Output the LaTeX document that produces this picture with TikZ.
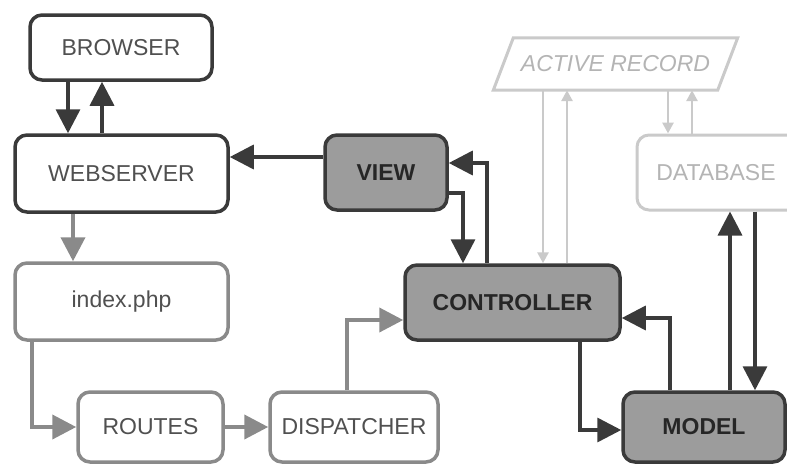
\documentclass[tikz,border=0pt]{standalone}
\usepackage{fontspec}
\setmainfont{Liberation Sans}
\usetikzlibrary{arrows.meta}

\definecolor{ink}{HTML}{3A3A3A}
\definecolor{boxfill}{HTML}{9C9C9C}
\definecolor{midgray}{HTML}{8A8A8A}
\definecolor{midtext}{HTML}{505050}
\definecolor{palegray}{HTML}{CACACA}
\definecolor{paletext}{HTML}{B4B4B4}

\tikzset{
  base/.style={rounded corners=12pt, line width=3.5pt, inner sep=0pt,
    font=\fontsize{23}{26}\selectfont, align=center},
  plainbox/.style={base, draw=ink, fill=white, text=midtext},
  darkbox/.style={base, draw=ink, fill=boxfill, text=black!85, font=\fontsize{23}{26}\selectfont\bfseries},
  graybox/.style={base, draw=midgray, fill=white, text=midtext},
  palebox/.style={base, draw=palegray, line width=3pt, fill=white, text=paletext},
  darkarrow/.style={draw=ink, line width=3.5pt, -{Triangle[length=24pt,width=24pt]}},
  grayarrow/.style={draw=midgray, line width=4pt, -{Triangle[length=24pt,width=24pt]}},
  palearrow/.style={draw=palegray, line width=2.8pt, -{Triangle[length=11pt,width=11pt]}},
}

\begin{document}
\begin{tikzpicture}[x=1pt, y=-1pt]
  \useasboundingbox (0,0) rectangle (787,464);
  \clip (0,0) rectangle (787,464);

  % boxes
  \node[plainbox, minimum width=182pt, minimum height=65pt] (browser) at (121,47.5) {BROWSER};
  \node[plainbox, minimum width=213pt, minimum height=77pt] (webserver) at (121.5,173.5) {WEBSERVER};
  \node[graybox, minimum width=213pt, minimum height=77pt] (index) at (121.5,301.5) {index.php};
  \node[graybox, minimum width=145pt, minimum height=70pt] (routes) at (150.5,427) {ROUTES};
  \node[graybox, minimum width=168pt, minimum height=70pt] (dispatcher) at (354,427) {DISPATCHER};
  \node[darkbox, minimum width=122pt, minimum height=75pt] (view) at (386,172.5) {VIEW};
  \node[darkbox, minimum width=215pt, minimum height=75pt] (controller) at (512.5,302.5) {CONTROLLER};
  \node[darkbox, minimum width=162pt, minimum height=70pt] (model) at (704,427) {MODEL};
  % the database box runs past the right margin; its label keeps to the visible part
  \node[palebox, minimum width=176pt, minimum height=75pt] (database) at (725,172.5) {DATABASE\rule{18pt}{0pt}};

  % slanted record box
  \node[minimum width=224pt, minimum height=52pt, inner sep=0pt, text=paletext,
        font=\fontsize{23}{26}\selectfont\itshape] (ar) at (615.5,64) {ACTIVE RECORD};
  \draw[palegray, line width=3pt, line join=miter]
    ([xshift=10pt]ar.north west) -- ([xshift=10pt]ar.north east)
    -- ([xshift=-10pt]ar.south east) -- ([xshift=-10pt]ar.south west) -- cycle;

  % request path
  \draw[darkarrow] (browser.south -| 68,0) -- (webserver.north -| 68,0);
  \draw[darkarrow] (webserver.north -| 102,0) -- (browser.south -| 102,0);
  \draw[grayarrow] (webserver.south -| 73,0) -- (index.north -| 73,0);
  \draw[grayarrow] (index.south -| 32,0) |- (routes.west);
  \draw[grayarrow] (routes.east) -- (dispatcher.west);
  \draw[grayarrow] (dispatcher.north -| 347,0) |- (controller.west |- 0,320);

  % MVC loop
  \draw[darkarrow] (view.west |- 0,157) -- (webserver.east |- 0,157);
  \draw[darkarrow] (controller.north -| 487,0) |- (view.east |- 0,163);
  \draw[darkarrow] (view.east |- 0,193) -| (controller.north -| 463,0);
  \draw[darkarrow] (controller.south -| 580,0) |- (model.west |- 0,430);
  \draw[darkarrow] (model.north -| 670,0) |- (controller.east |- 0,318);
  \draw[darkarrow] (model.north -| 730,0) -- (database.south -| 730,0);
  \draw[darkarrow] (database.south -| 755,0) -- (model.north -| 755,0);

  % record layer
  \draw[palearrow] (ar.south -| 543,0) -- (controller.north -| 543,0);
  \draw[palearrow] (controller.north -| 567,0) -- (ar.south -| 567,0);
  \draw[palearrow] (ar.south -| 668,0) -- (database.north -| 668,0);
  \draw[palearrow] (database.north -| 692,0) -- (ar.south -| 692,0);
\end{tikzpicture}
\end{document}
